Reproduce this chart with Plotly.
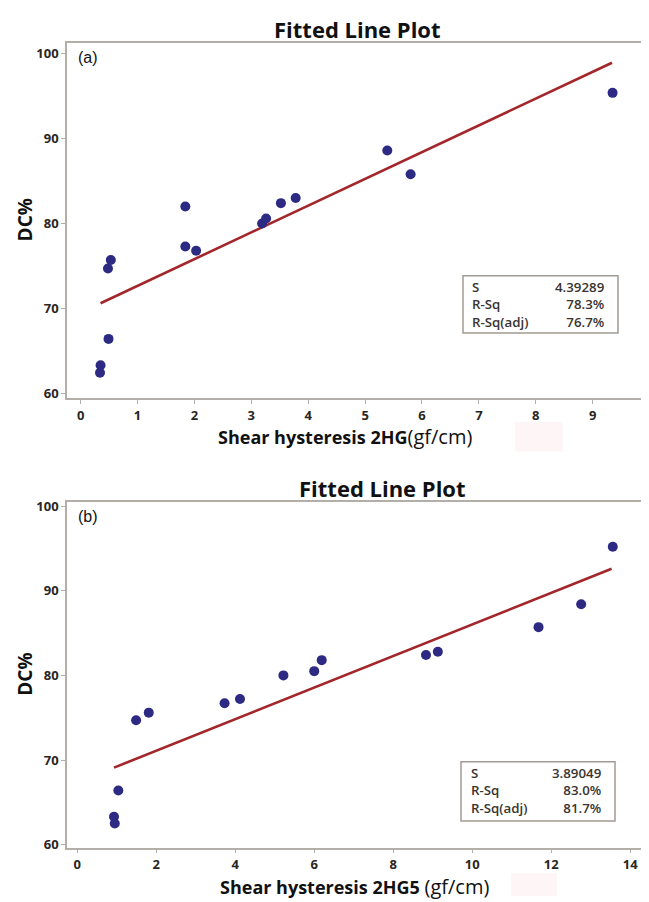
import plotly.graph_objects as go

# The page body has an 8px margin, so the figure is drawn 8px smaller and
# all reference pixel positions are shifted by that offset.
OFF = 8
W, H = 649 - OFF, 902 - OFF

# ---------------- data ----------------
# Panel (a): Shear hysteresis 2HG vs DC%
x_a = [0.34, 0.35, 0.49, 0.48, 0.53, 1.84, 1.84, 2.03, 3.19, 3.26, 3.52, 3.78, 5.39, 5.80, 9.35]
y_a = [62.4, 63.3, 66.4, 74.7, 75.7, 77.3, 82.0, 76.8, 80.0, 80.6, 82.4, 83.0, 88.6, 85.8, 95.4]
fit_x_a = [0.35, 9.34]
fit_y_a = [70.6, 98.95]
stats_a_labels = ["S", "R-Sq", "R-Sq(adj)"]
stats_a_values = ["4.39289", "78.3%", "76.7%"]

# Panel (b): Shear hysteresis 2HG5 vs DC%
x_b = [0.95, 0.93, 1.04, 1.49, 1.81, 3.73, 4.12, 5.22, 6.00, 6.19, 8.83, 9.13, 11.68, 12.76, 13.56]
y_b = [62.5, 63.3, 66.4, 74.7, 75.6, 76.7, 77.2, 80.0, 80.5, 81.8, 82.4, 82.8, 85.7, 88.4, 95.2]
fit_x_b = [0.93, 13.53]
fit_y_b = [69.1, 92.6]
stats_b_labels = ["S", "R-Sq", "R-Sq(adj)"]
stats_b_values = ["3.89049", "83.0%", "81.7%"]

y_ticks = [60, 70, 80, 90, 100]
x_ticks_a = list(range(0, 10))
x_ticks_b = list(range(0, 15, 2))

# ---------------- styling ----------------
DOT = "#2c2a82"
LINE = "#a3262b"
FRAME = "#b3aea8"
TXT = "#2a2622"
FONT = "Open Sans"


def px(x):
    return (x - OFF) / W


def py(y):
    return 1 - (y - OFF) / H


fig = go.Figure()

fig.add_trace(go.Scatter(x=fit_x_a, y=fit_y_a, mode="lines",
                         line=dict(color=LINE, width=2.6), xaxis="x", yaxis="y",
                         showlegend=False, hoverinfo="skip"))
fig.add_trace(go.Scatter(x=x_a, y=y_a, mode="markers",
                         marker=dict(color=DOT, size=10, line=dict(width=0)),
                         xaxis="x", yaxis="y", showlegend=False))
fig.add_trace(go.Scatter(x=fit_x_b, y=fit_y_b, mode="lines",
                         line=dict(color=LINE, width=2.6), xaxis="x2", yaxis="y2",
                         showlegend=False, hoverinfo="skip"))
fig.add_trace(go.Scatter(x=x_b, y=y_b, mode="markers",
                         marker=dict(color=DOT, size=10, line=dict(width=0)),
                         xaxis="x2", yaxis="y2", showlegend=False))

axis_common = dict(
    showline=True, mirror=True, linecolor=FRAME, linewidth=1.5,
    ticks="outside", tickcolor=FRAME, ticklen=4, tickwidth=1.2,
    showgrid=False, zeroline=False,
    tickfont=dict(family=FONT, size=13, color=TXT, weight="bold"),
)

# plot-area pixel boxes in the reference
A = dict(l=67, r=645, t=38, b=398)
B = dict(l=67, r=642, t=503, b=853)

fig.update_layout(
    width=W, height=H,
    margin=dict(l=0, r=0, t=0, b=0),
    paper_bgcolor="white", plot_bgcolor="white",
    xaxis=dict(domain=[px(A["l"]), px(A["r"])], range=[-0.24, 9.92],
               tickvals=x_ticks_a, anchor="y", **axis_common),
    yaxis=dict(domain=[py(A["b"]), py(A["t"])], range=[59.41, 101.32],
               tickvals=y_ticks, anchor="x", **axis_common),
    xaxis2=dict(domain=[px(B["l"]), px(B["r"])], range=[-0.26, 14.3],
                tickvals=x_ticks_b, anchor="y2", **axis_common),
    yaxis2=dict(domain=[py(B["b"]), py(B["t"])], range=[59.65, 100.5],
                tickvals=y_ticks, anchor="x2", **axis_common),
)

ann = []
shapes = []


def panel_texts(box, title_x, title_y, label, label_y, xtitle_html, xtitle_x, xtitle_y,
                stat_box, row_mid, txt_l, txt_r, labels, values):
    ann.append(dict(text="<b>Fitted Line Plot</b>", x=px(title_x), y=py(title_y),
                    xref="paper", yref="paper", showarrow=False,
                    xanchor="center", yanchor="middle",
                    font=dict(family=FONT, size=22, color="#111111")))
    ann.append(dict(text=label, x=px(76), y=py(label_y),
                    xref="paper", yref="paper", showarrow=False,
                    xanchor="left", yanchor="middle",
                    font=dict(family="Liberation Sans", size=16, color="#111111")))
    ann.append(dict(text="<b>DC%</b>", x=px(25), y=py((box["t"] + box["b"]) / 2),
                    xref="paper", yref="paper", showarrow=False, textangle=-90,
                    xanchor="center", yanchor="middle",
                    font=dict(family=FONT, size=19, color="#111111")))
    ann.append(dict(text=xtitle_html, x=px(xtitle_x), y=py(xtitle_y),
                    xref="paper", yref="paper", showarrow=False,
                    xanchor="center", yanchor="middle", borderpad=0,
                    font=dict(family=FONT, size=18, color="#111111")))
    l, t, r, b = stat_box
    shapes.append(dict(type="rect", xref="paper", yref="paper",
                       x0=px(l), x1=px(r), y0=py(b), y1=py(t),
                       line=dict(color="#a39a93", width=1.5), fillcolor="white"))
    ann.append(dict(text="<br>".join(labels), x=px(txt_l), y=py(row_mid),
                    xref="paper", yref="paper", showarrow=False,
                    xanchor="left", yanchor="middle", align="left",
                    font=dict(family=FONT, size=13.3, color="#3a3430", weight=600)))
    ann.append(dict(text="<br>".join(values), x=px(txt_r), y=py(row_mid),
                    xref="paper", yref="paper", showarrow=False,
                    xanchor="right", yanchor="middle", align="right",
                    font=dict(family=FONT, size=13.3, color="#3a3430", weight=600)))


panel_texts(A, 357, 24, "(a)", 53,
            "<b>Shear hysteresis 2HG</b><span style='font-size:20px'>(gf/cm)</span>",
            345, 437, (463, 274, 618, 332), 303, 470, 607,
            stats_a_labels, stats_a_values)
panel_texts(B, 382, 488.5, "(b)", 518,
            "<b>Shear hysteresis 2HG5 </b><span style='font-size:20px'>(gf/cm)</span>",
            354, 892, (461, 766, 615, 826), 795.5, 469, 604,
            stats_b_labels, stats_b_values)

# faint pinkish scan artefacts near the axis titles
shapes.append(dict(type="rect", xref="paper", yref="paper", layer="below",
                   x0=px(515), x1=px(563), y0=py(452), y1=py(422),
                   line=dict(width=0), fillcolor="#fef6f6"))
shapes.append(dict(type="rect", xref="paper", yref="paper", layer="below",
                   x0=px(511), x1=px(557), y0=py(902), y1=py(879),
                   line=dict(width=0), fillcolor="#fef6f6"))

fig.update_layout(annotations=ann, shapes=shapes)

fig.write_html("out.html")
